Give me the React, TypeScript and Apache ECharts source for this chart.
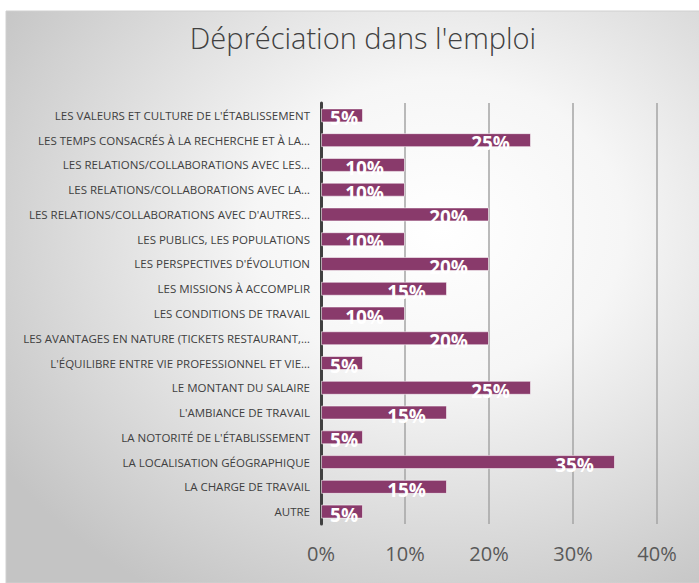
import React, { useEffect, useRef } from "react";
import * as echarts from "echarts";

const categories: string[] = [
  "LES VALEURS ET CULTURE DE L'ÉTABLISSEMENT",
  "LES TEMPS CONSACRÉS À LA RECHERCHE ET À LA…",
  "LES RELATIONS/COLLABORATIONS AVEC LES…",
  "LES RELATIONS/COLLABORATIONS AVEC LA…",
  "LES RELATIONS/COLLABORATIONS AVEC D'AUTRES…",
  "LES PUBLICS, LES POPULATIONS",
  "LES PERSPECTIVES D'ÉVOLUTION",
  "LES MISSIONS À ACCOMPLIR",
  "LES CONDITIONS DE TRAVAIL",
  "LES AVANTAGES EN NATURE (TICKETS RESTAURANT,…",
  "L'ÉQUILIBRE ENTRE VIE PROFESSIONNEL ET VIE…",
  "LE MONTANT DU SALAIRE",
  "L'AMBIANCE DE TRAVAIL",
  "LA NOTORITÉ DE L'ÉTABLISSEMENT",
  "LA LOCALISATION GÉOGRAPHIQUE",
  "LA CHARGE DE TRAVAIL",
  "AUTRE",
];

const values: number[] = [5, 25, 10, 10, 20, 10, 20, 15, 10, 20, 5, 25, 15, 5, 35, 15, 5];

const xTicks = { min: 0, max: 40, interval: 10 };

export default function App() {
  const ref = useRef<HTMLDivElement>(null);

  useEffect(() => {
    if (!ref.current) return;
    const chart = echarts.init(ref.current, undefined, { renderer: "svg" });
    chart.setOption({
      animation: false,
      title: {
        text: "Dépréciation dans l'emploi",
        left: 358,
        textAlign: "center",
        top: 18,
        textStyle: {
          fontFamily: "'Open Sans', sans-serif",
          fontWeight: 300,
          fontSize: 29,
          color: "#404040",
        },
      },
      graphic: [
        {
          type: "rect",
          z: -10,
          silent: true,
          shape: { x: 6, y: 11, width: 700, height: 572 },
          style: {
            fill: new echarts.graphic.RadialGradient(0.62, 0.38, 0.75, [
              { offset: 0, color: "#ffffff" },
              { offset: 0.35, color: "#f6f6f6" },
              { offset: 1, color: "#c4c4c4" },
            ]),
            stroke: "#d0d0d0",
            lineWidth: 1,
          },
        },
      ],
      grid: { left: 321, right: 42, top: 103, bottom: 59, containLabel: false },
      xAxis: {
        type: "value",
        min: xTicks.min,
        max: xTicks.max,
        interval: xTicks.interval,
        axisLine: { show: false },
        axisTick: { show: false },
        splitLine: { show: true, lineStyle: { color: "#a4a4a4", width: 1.5 } },
        axisLabel: {
          formatter: "{value}%",
          fontSize: 20,
          color: "#595959",
          margin: 19,
          fontFamily: "'Open Sans', sans-serif",
        },
      },
      yAxis: {
        type: "category",
        inverse: true,
        data: categories,
        axisTick: { show: false },
        axisLine: { show: true, lineStyle: { color: "#404040", width: 3 } },
        axisLabel: {
          fontSize: 11.5,
          color: "#404040",
          margin: 11,
          fontFamily: "'Liberation Sans Narrow', 'Open Sans', sans-serif",
        },
      },
      series: [
        {
          type: "bar",
          barWidth: 14,
          data: values.map((v) => ({
            value: v,
            label: { offset: v <= 5 ? [0, 3] : [-16, 3] },
          })),
          itemStyle: {
            color: "#893a6b",
            borderColor: "rgba(255,255,255,0.55)",
            borderWidth: 1,
          },
          label: {
            show: true,
            position: "insideRight",
            formatter: "{c}%",
            color: "#ffffff",
            fontWeight: "bold",
            fontSize: 19,
            fontFamily: "'Open Sans', sans-serif",
          },
        },
      ],
    });
    return () => chart.dispose();
  }, []);

  return (
    <div
      ref={ref}
      style={{ position: "absolute", left: 0, top: 0, width: 699, height: 583 }}
    />
  );
}
